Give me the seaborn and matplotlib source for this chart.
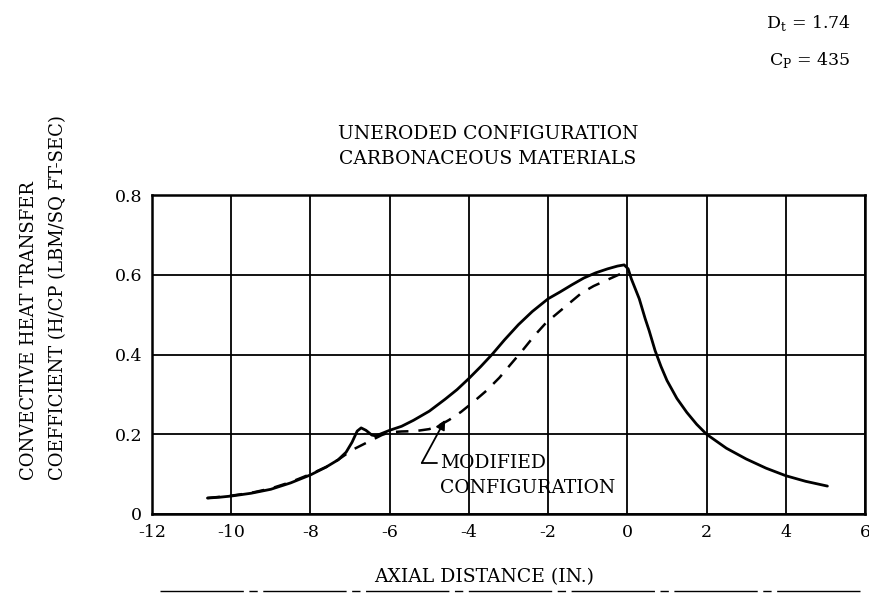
import matplotlib
matplotlib.use("Agg")
import matplotlib.pyplot as plt
import seaborn as sns
import pandas as pd

# ---- data ----
solid_x = [-10.6, -10.3, -10.0, -9.5, -9.0, -8.5, -8.0, -7.6, -7.3, -7.1, -6.95, -6.82,
           -6.72, -6.6, -6.45, -6.35, -6.2, -6.0, -5.7, -5.4, -5.0, -4.6, -4.3, -4.0,
           -3.7, -3.4, -3.1, -2.75, -2.4, -2.0, -1.7, -1.4, -1.1, -0.8, -0.5, -0.25,
           -0.08, 0.02, 0.1, 0.2, 0.3, 0.45, 0.55, 0.7, 0.85, 1.0, 1.25, 1.5, 1.75,
           2.0, 2.5, 3.0, 3.5, 4.0, 4.5, 5.05]
solid_y = [0.040, 0.042, 0.045, 0.052, 0.062, 0.078, 0.098, 0.118, 0.136, 0.155, 0.180, 0.208,
           0.216, 0.210, 0.198, 0.196, 0.202, 0.210, 0.220, 0.235, 0.258, 0.288, 0.312, 0.340,
           0.370, 0.402, 0.437, 0.475, 0.508, 0.540, 0.557, 0.575, 0.592, 0.605, 0.615, 0.622,
           0.625, 0.615, 0.590, 0.565, 0.540, 0.490, 0.460, 0.410, 0.370, 0.335, 0.290, 0.255, 0.225,
           0.200, 0.165, 0.138, 0.115, 0.096, 0.082, 0.070]

dash_x = [-10.6, -10.0, -9.5, -9.0, -8.5, -8.0, -7.6, -7.3, -7.1, -6.9, -6.6, -6.4, -6.2,
          -6.0, -5.7, -5.35, -5.0, -4.75, -4.5, -4.2, -3.9, -3.55, -3.23, -2.95, -2.65,
          -2.35, -2.05, -1.75, -1.45, -1.15, -0.85, -0.45, 0.0]
dash_y = [0.040, 0.046, 0.053, 0.064, 0.080, 0.100, 0.118, 0.136, 0.150, 0.163, 0.178, 0.188, 0.198,
          0.205, 0.207, 0.208, 0.213, 0.222, 0.236, 0.256, 0.280, 0.310, 0.342, 0.375, 0.410,
          0.447, 0.480, 0.505, 0.530, 0.555, 0.572, 0.590, 0.610]

x_ticks = [-12, -10, -8, -6, -4, -2, 0, 2, 4, 6]
x_tick_labels = ["-12", "-10", "-8", "-6", "-4", "-2", "0", "2", "4", "6"]
y_ticks = [0, 0.2, 0.4, 0.6, 0.8]
y_tick_labels = ["0", "0.2", "0.4", "0.6", "0.8"]

title_text = "UNERODED CONFIGURATION\nCARBONACEOUS MATERIALS"
x_label = "AXIAL DISTANCE (IN.)"
y_label = "CONVECTIVE HEAT TRANSFER\nCOEFFICIENT (H/CP (LBM/SQ FT-SEC)"
note_text = "MODIFIED\nCONFIGURATION"
note_xy = (-4.60, 0.236)      # arrow tip on modified curve
note_corner = (-5.19, 0.128)
note_text_pos = (-4.72, 0.150)

df_solid = pd.DataFrame({"x": solid_x, "y": solid_y})
df_dash = pd.DataFrame({"x": dash_x, "y": dash_y})

sns.set_style("white")
plt.rcParams["font.family"] = ["DejaVu Serif", "DejaVu Sans"]
plt.rcParams["text.color"] = "black"
plt.rcParams["axes.labelcolor"] = "black"
plt.rcParams["xtick.color"] = "black"
plt.rcParams["ytick.color"] = "black"

fig = plt.figure(figsize=(8.7, 5.96), dpi=100)
ax = fig.add_axes([0.1747, 0.1376, 0.8196, 0.535])

sns.lineplot(data=df_solid, x="x", y="y", ax=ax, color="black", lw=2.0,
             sort=False, estimator=None)
sns.lineplot(data=df_dash, x="x", y="y", ax=ax, color="black", lw=1.8,
             sort=False, estimator=None, dashes=False, linestyle=(0, (5, 4)))

ax.set_xlim(-12, 6)
ax.set_ylim(0, 0.8)
ax.set_xticks(x_ticks)
ax.set_xticklabels(x_tick_labels)
ax.set_yticks(y_ticks)
ax.set_yticklabels(y_tick_labels)
ax.tick_params(axis="both", length=0, labelsize=12.5, colors="black", pad=7)
ax.grid(True, color="black", lw=1.3)
for s in ax.spines.values():
    s.set_color("black")
    s.set_linewidth(1.8)
ax.set_xlabel("")
ax.set_ylabel("")

# annotation leader
ax.plot([note_corner[0], note_text_pos[0] - 0.08], [note_corner[1], note_corner[1]],
        color="black", lw=1.3)
ax.annotate("", xy=note_xy, xytext=note_corner,
            arrowprops=dict(arrowstyle="-|>", color="black", lw=1.3,
                            mutation_scale=14, shrinkA=0, shrinkB=0))
ax.text(note_text_pos[0], note_text_pos[1], note_text, fontsize=13.5, ha="left",
        va="top", linespacing=1.45, color="black")

fig.text(0.561, 0.755, title_text, ha="center", va="center", fontsize=13.5,
         linespacing=1.5)
fig.text(0.557, 0.032, x_label, ha="center", va="center", fontsize=13.5)
fig.text(0.05, 0.50, y_label, ha="center", va="center", rotation=90, fontsize=13,
         linespacing=1.75, multialignment="left")

fig.text(0.978, 0.962, r"D$_\mathregular{t}$ = 1.74", ha="right", va="center", fontsize=12.5)
fig.text(0.978, 0.900, r"C$_\mathregular{P}$ = 435", ha="right", va="center", fontsize=12.5)

# scan-style rule under axis label
fig.add_artist(plt.Line2D([0.184, 0.99], [0.008, 0.008], color="black", lw=1.0,
                          linestyle=(0, (60, 4, 6, 4))))

fig.savefig("out.png", dpi=100)
